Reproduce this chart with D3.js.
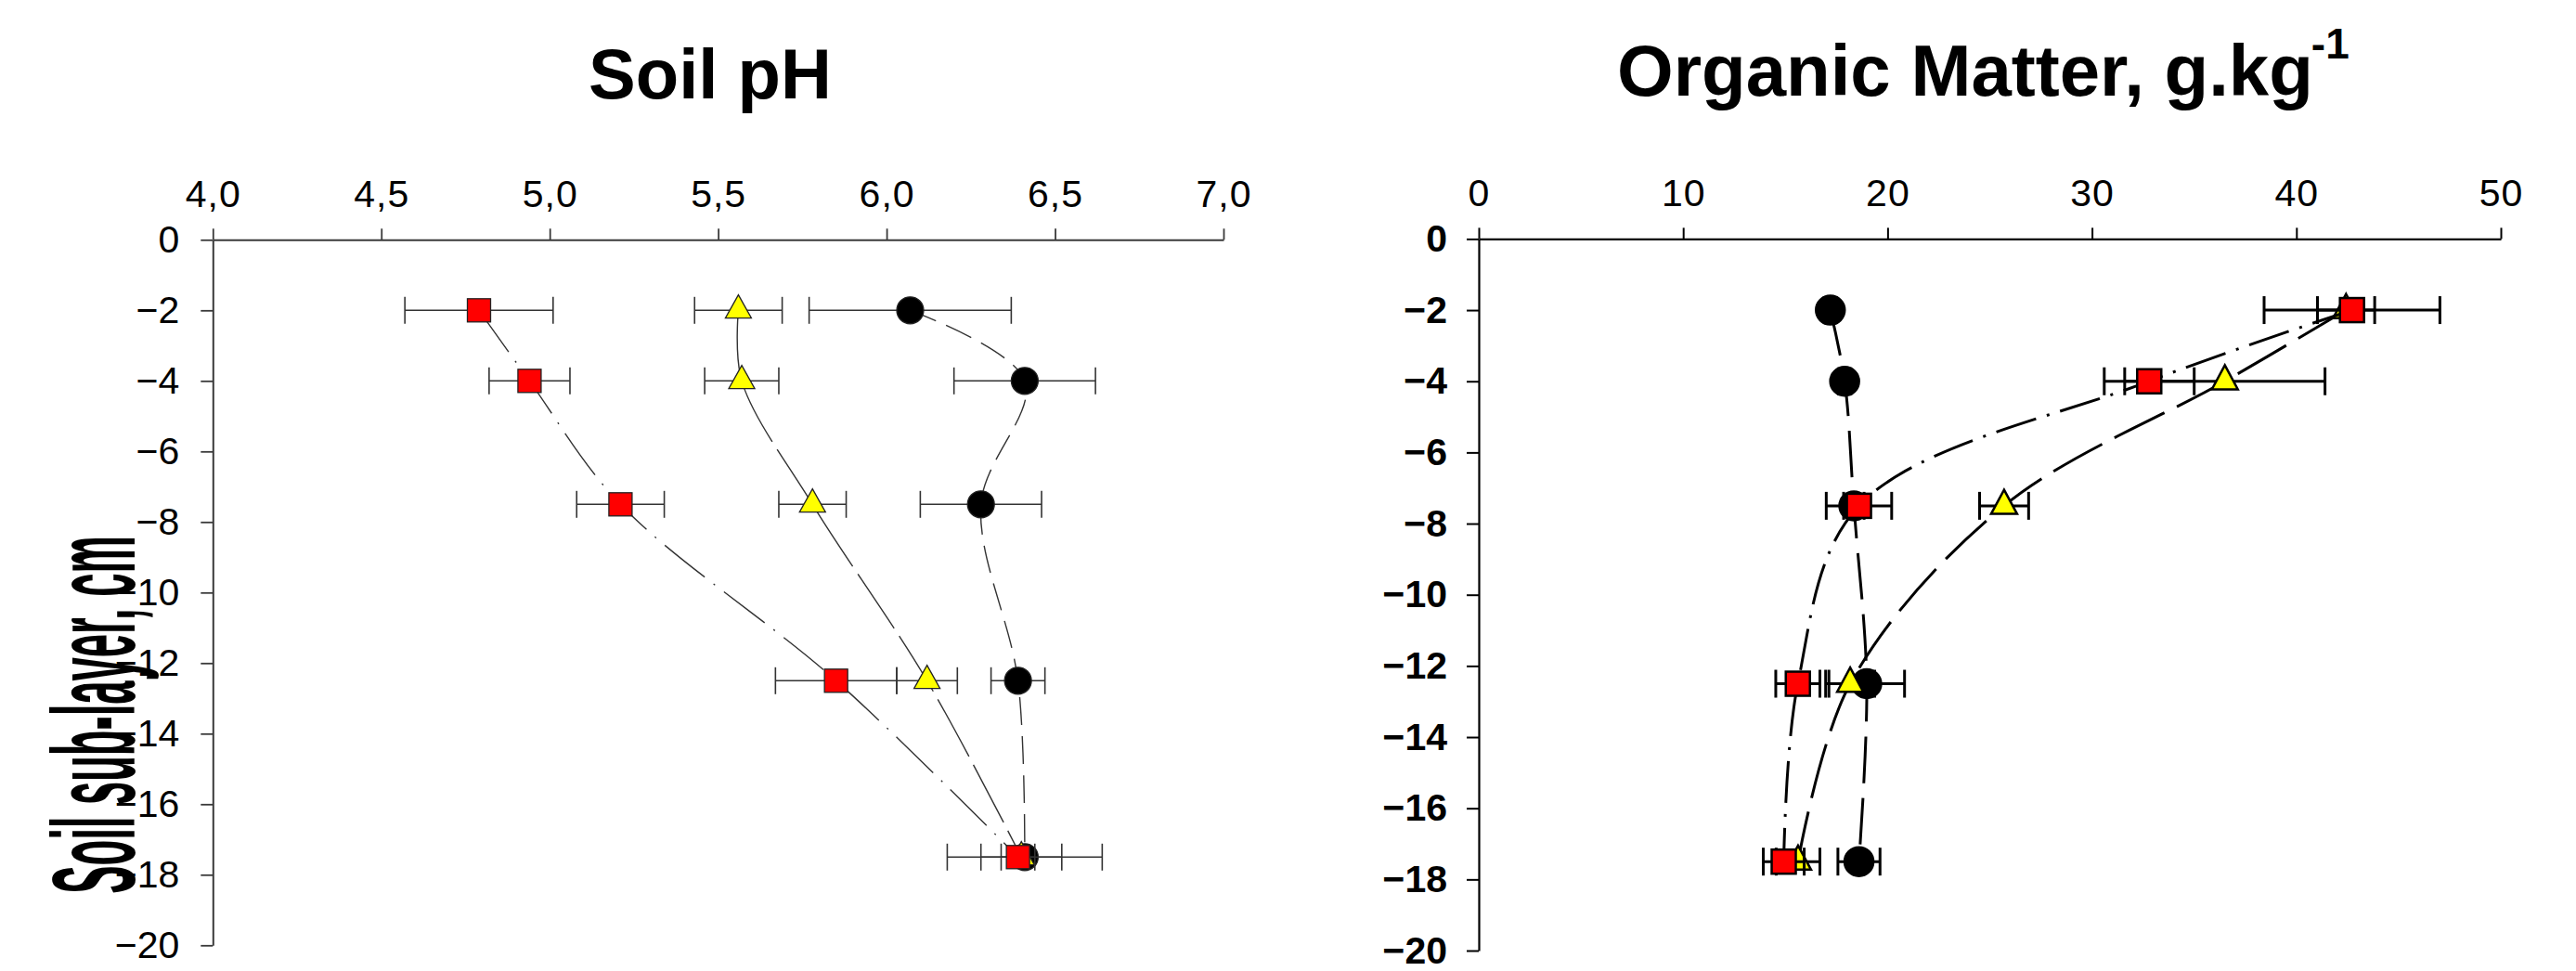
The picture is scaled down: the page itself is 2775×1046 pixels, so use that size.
<!DOCTYPE html>
<html>
<head>
<meta charset="utf-8">
<script src="https://cdn.jsdelivr.net/npm/d3@7"></script>
<style>
  html, body { margin: 0; padding: 0; background: #fff; }
  svg { display: block; }
  text { font-family: "Liberation Sans", Arial, sans-serif; }
</style>
</head>
<body>
<svg id="chart" width="2775" height="1046"></svg>
<script>
// ---------------- data ----------------
const depths = [-2, -4, -7.5, -12.5, -17.5];

const phTicks = [4.0, 4.5, 5.0, 5.5, 6.0, 6.5, 7.0];
const phTickLabels = ["4,0", "4,5", "5,0", "5,5", "6,0", "6,5", "7,0"];
const omTicks = [0, 10, 20, 30, 40, 50];
const omTickLabels = ["0", "10", "20", "30", "40", "50"];
const depthTicks = [0, -2, -4, -6, -8, -10, -12, -14, -16, -18, -20];

// Soil pH
const phCircle = [6.07, 6.41, 6.28, 6.39, 6.41];
const phCircleErr = [0.30, 0.21, 0.18, 0.08, 0.23];
const phTriangle = [5.56, 5.57, 5.78, 6.12, 6.40];
const phTriangleErr = [0.13, 0.11, 0.10, 0.09, 0.12];
const phSquare = [4.79, 4.94, 5.21, 5.85, 6.39];
const phSquareErr = [0.22, 0.12, 0.13, 0.18, 0.05];

// Organic matter, g/kg
const omCircle = [17.2, 17.9, 18.35, 18.98, 18.6];
const omCircleErr = [0.3, 0.3, 0.5, 1.85, 1.03];
const omTriangle = [42.43, 36.5, 25.7, 18.17, 15.62];
const omTriangleErr = [1.4, 4.9, 1.2, 1.2, 1.07];
const omSquare = [42.72, 32.8, 18.6, 15.61, 14.92];
const omSquareErr = [4.3, 2.2, 1.6, 1.08, 1.0];

// ---------------- drawing ----------------
const svg = d3.select("#chart");

function trianglePath(w, h) {
  return `M0,${-2 * h / 3}L${w / 2},${h / 3}L${-w / 2},${h / 3}Z`;
}

function drawPanel(cfg) {
  const g = svg.append("g");
  const x = cfg.x, y = cfg.y;

  const xAxis = d3.axisTop(x).tickValues(cfg.xTicks)
    .tickFormat((d, i) => cfg.xLabels[i])
    .tickSize(12).tickSizeOuter(0).tickPadding(23);
  const yAxis = d3.axisLeft(y).tickValues(depthTicks)
    .tickFormat(d3.format("d"))
    .tickSize(13).tickSizeOuter(0).tickPadding(cfg.yPad);

  const gx = g.append("g").attr("transform", `translate(0,${y(0)})`).call(xAxis);
  const gy = g.append("g").attr("transform", `translate(${x(cfg.xTicks[0])},0)`).call(yAxis);
  [gx, gy].forEach(a => {
    a.select(".domain").attr("stroke", cfg.axisColor).attr("stroke-width", cfg.axisW);
    a.selectAll(".tick line").attr("stroke", cfg.axisColor).attr("stroke-width", cfg.tickW);
    a.selectAll(".tick text").attr("fill", "#000").attr("font-size", 41)
      .attr("letter-spacing", 1)
      .attr("font-family", '"Liberation Sans", Arial, sans-serif');
  });
  gy.selectAll(".tick text").attr("font-weight", cfg.yBold ? "bold" : "normal")
    .attr("letter-spacing", 0);

  const line = vals => d3.line()
    .x((d, i) => x(vals[i]))
    .y((d, i) => y(depths[i]))
    .curve(d3.curveCatmullRom.alpha(0.5))(depths);

  cfg.series.forEach(s => {
    const sg = g.append("g");
    sg.append("path").attr("d", line(s.vals))
      .attr("fill", "none").attr("stroke", cfg.lineColor)
      .attr("stroke-width", cfg.lineW).attr("stroke-dasharray", s.dash);
    depths.forEach((dp, i) => {
      const yy = y(dp), x0 = x(s.vals[i] - s.errs[i]), x1 = x(s.vals[i] + s.errs[i]);
      sg.append("line").attr("x1", x0).attr("x2", x1).attr("y1", yy).attr("y2", yy)
        .attr("stroke", cfg.errColor).attr("stroke-width", cfg.errW);
      [x0, x1].forEach(xc => sg.append("line")
        .attr("x1", xc).attr("x2", xc)
        .attr("y1", yy - cfg.capH / 2).attr("y2", yy + cfg.capH / 2)
        .attr("stroke", cfg.errColor).attr("stroke-width", cfg.errW));
    });
    depths.forEach((dp, i) => {
      const cx = x(s.vals[i]), cy = y(dp);
      let m;
      if (s.shape === "circle") {
        m = sg.append("circle").attr("cx", cx).attr("cy", cy).attr("r", cfg.circleR);
      } else if (s.shape === "square") {
        const a = cfg.squareA;
        m = sg.append("rect").attr("x", cx - a / 2).attr("y", cy - a / 2)
          .attr("width", a).attr("height", a);
      } else {
        m = sg.append("path").attr("d", trianglePath(cfg.triW, cfg.triH))
          .attr("transform", `translate(${cx},${cy})`);
      }
      m.attr("fill", s.fill).attr("stroke", cfg.markStroke).attr("stroke-width", cfg.markW);
    });
  });
}

// Soil pH panel
drawPanel({
  x: d3.scaleLinear().domain([4, 7]).range([229.3, 1318]),
  y: d3.scaleLinear().domain([0, -20]).range([258.3, 1018.3]),
  xTicks: phTicks, xLabels: phTickLabels, yPad: 23, yBold: false,
  axisColor: "#3a3a3a", axisW: 2, tickW: 1.8,
  lineColor: "#333", lineW: 1.4,
  errColor: "#333", errW: 1.6, capH: 29,
  circleR: 14.5, squareA: 25, triW: 28, triH: 25,
  markStroke: "#222", markW: 1.3,
  series: [
    { vals: phCircle, errs: phCircleErr, shape: "circle", fill: "#000", dash: "30,12" },
    { vals: phTriangle, errs: phTriangleErr, shape: "triangle", fill: "#ffff00", dash: "70,10" },
    { vals: phSquare, errs: phSquareErr, shape: "square", fill: "#ff0000", dash: "55,12,2,12" }
  ]
});

// Organic matter panel
drawPanel({
  x: d3.scaleLinear().domain([0, 50]).range([1593, 2694]),
  y: d3.scaleLinear().domain([0, -20]).range([257.4, 1024]),
  xTicks: omTicks, xLabels: omTickLabels, yPad: 21, yBold: true,
  axisColor: "#000", axisW: 2.2, tickW: 2,
  lineColor: "#000", lineW: 3,
  errColor: "#000", errW: 3, capH: 30,
  circleR: 15.5, squareA: 26, triW: 28, triH: 26,
  markStroke: "#000", markW: 2.5,
  series: [
    { vals: omCircle, errs: omCircleErr, shape: "circle", fill: "#000", dash: "50,16" },
    { vals: omTriangle, errs: omTriangleErr, shape: "triangle", fill: "#ffff00", dash: "60,15" },
    { vals: omSquare, errs: omSquareErr, shape: "square", fill: "#ff0000", dash: "45,12,3,12" }
  ]
});

// Titles
svg.append("text").attr("x", 765).attr("y", 106)
  .attr("text-anchor", "middle").attr("font-size", 76).attr("font-weight", "bold")
  .text("Soil pH");

const t2 = svg.append("text").attr("x", 1742).attr("y", 103)
  .attr("font-size", 78).attr("font-weight", "bold");
t2.append("tspan").text("Organic Matter, g.kg");
t2.append("tspan").attr("font-size", 46).attr("dy", -40).attr("dx", -2).text("-1");

// Y axis label (strongly condensed, as in the reference)
svg.append("text")
  .attr("transform", "translate(145,770) rotate(-90) scale(0.357,1)")
  .attr("text-anchor", "middle")
  .attr("font-size", 127).attr("font-weight", "bold")
  .text("Soil sub-layer, cm");
</script>
</body>
</html>
